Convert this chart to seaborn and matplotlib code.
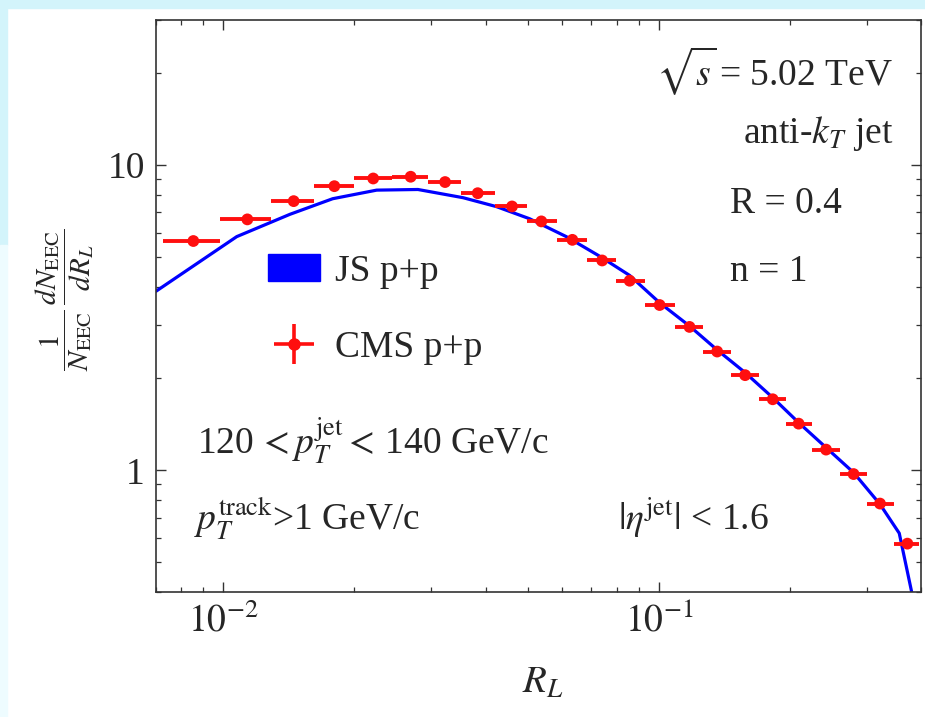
import numpy as np
import matplotlib
matplotlib.use("Agg")
import matplotlib.pyplot as plt
import seaborn as sns
from matplotlib.patches import Patch, Rectangle
from matplotlib.lines import Line2D
from matplotlib.legend_handler import HandlerTuple
from matplotlib.ticker import LogLocator, NullFormatter

# ---------------- data ----------------
cms_RL = [0.00853, 0.01135, 0.01450, 0.01798, 0.02208, 0.02692, 0.03229, 0.03837,
          0.04600, 0.05372, 0.0633, 0.0741, 0.0857, 0.1004, 0.1176, 0.1361,
          0.1578, 0.1826, 0.2094, 0.2421, 0.2800, 0.3220, 0.3722]
cms_val = [5.64, 6.64, 7.62, 8.53, 9.04, 9.16, 8.80, 8.09, 7.32, 6.54, 5.69, 4.87,
           4.18, 3.48, 2.95, 2.45, 2.05, 1.709, 1.422, 1.169, 0.972, 0.778, 0.575]
cms_bin_lo = [0.00726, 0.00984, 0.01283, 0.01615, 0.01992, 0.02438, 0.02948, 0.03519,
              0.04202, 0.04970, 0.05827, 0.06846, 0.07965, 0.09279, 0.1087, 0.1265,
              0.1466, 0.1698, 0.1954, 0.2252, 0.2604, 0.3002, 0.3462]
cms_bin_hi = [0.00984, 0.01283, 0.01615, 0.01992, 0.02438, 0.02948, 0.03519, 0.04202,
              0.04970, 0.05827, 0.06846, 0.07965, 0.09279, 0.1087, 0.1265, 0.1466,
              0.1698, 0.1954, 0.2252, 0.2604, 0.3002, 0.3462, 0.3948]

js_RL = [0.00700, 0.01073, 0.01422, 0.01782, 0.02249, 0.02797, 0.03552, 0.04238,
         0.05051, 0.06130, 0.0731, 0.0857, 0.1004, 0.1176, 0.1361, 0.1578, 0.1826,
         0.2094, 0.2421, 0.2800, 0.3220, 0.3565, 0.3850]
js_val = [3.86, 5.83, 6.90, 7.76, 8.28, 8.32, 7.82, 7.31, 6.67, 5.83, 5.03, 4.35,
          3.54, 2.97, 2.48, 2.09, 1.730, 1.433, 1.187, 0.983, 0.774, 0.622, 0.37]

x_ticks = [0.01, 0.1]
x_ticklabels = [r"$10^{-2}$", r"$10^{-1}$"]
y_ticks = [1, 10]
y_ticklabels = ["1", "10"]

RED = "#ff0f0f"
BLUE = "#0000ff"

# ---------------- style ----------------
sns.set_style("ticks")
plt.rcParams["font.family"] = ["Liberation Serif", "DejaVu Serif"]
plt.rcParams["mathtext.fontset"] = "stix"

fig = plt.figure(figsize=(9.25, 7.17), dpi=100)
fig.patch.set_facecolor("white")
# light cyan page border
fig.patches.append(Rectangle((0, 1 - 8 / 717), 1, 8 / 717, transform=fig.transFigure,
                             color="#d3f4fb", zorder=-10))
fig.patches.append(Rectangle((0, 1 - 245 / 717), 7 / 925, 245 / 717, transform=fig.transFigure,
                             color="#d3f4fb", zorder=-10))
fig.patches.append(Rectangle((0, 0), 7 / 925, 1 - 245 / 717, transform=fig.transFigure,
                             color="#eefcff", zorder=-10))

ax = fig.add_axes([0.1686, 0.1747, 0.9957 - 0.1686, 0.9728 - 0.1747])
ax.set_xscale("log")
ax.set_yscale("log")

sns.lineplot(x=js_RL, y=js_val, color=BLUE, lw=2.3, sort=False, ax=ax,
             legend=False, zorder=2)

xl = np.array(cms_RL) - np.array(cms_bin_lo)
xh = np.array(cms_bin_hi) - np.array(cms_RL)
ax.errorbar(cms_RL, cms_val, xerr=[xl, xh], fmt="none", ecolor=RED,
            elinewidth=2.8, capsize=0, zorder=3)
sns.scatterplot(x=cms_RL, y=cms_val, color=RED, s=72, edgecolor="none",
                ax=ax, legend=False, zorder=4)

ax.set_xlim(0.007, 0.4)
ax.set_ylim(0.4, 30)

ax.set_xticks(x_ticks)
ax.set_xticklabels(x_ticklabels)
ax.set_yticks(y_ticks)
ax.set_yticklabels(y_ticklabels)
ax.xaxis.set_minor_locator(LogLocator(base=10, subs=np.arange(2, 10)))
ax.yaxis.set_minor_locator(LogLocator(base=10, subs=np.arange(2, 10)))
ax.xaxis.set_minor_formatter(NullFormatter())
ax.yaxis.set_minor_formatter(NullFormatter())
ax.tick_params(which="both", direction="in", top=True, right=True,
               color="#333333", labelsize=27, pad=8)
ax.tick_params(which="major", length=7, width=1.0)
ax.tick_params(which="minor", length=3.5, width=0.9)
for s in ax.spines.values():
    s.set_color("#333333")
    s.set_linewidth(1.2)

ax.set_xlabel(r"$R_L$", fontsize=28)
ax.xaxis.set_label_coords(0.505, -0.16)
ax.xaxis.label.set_va("center")
ax.set_ylabel(r"$\dfrac{1}{N_{\rm EEC}}\,\dfrac{dN_{\rm EEC}}{dR_L}$", fontsize=21,
              rotation=90, ha="center", va="center")
ax.yaxis.set_label_coords(-0.119, 0.51)

fs = 27
ax.text(0.9634, 0.8855, r"$\sqrt{s}\,$= 5.02 TeV", transform=ax.transAxes,
        ha="right", va="baseline", fontsize=fs)
ax.text(0.9634, 0.7836, r"anti-$k_T$ jet", transform=ax.transAxes,
        ha="right", va="baseline", fontsize=fs)
ax.text(0.7503, 0.6613, "R = 0.4", transform=ax.transAxes,
        ha="left", va="baseline", fontsize=fs)
ax.text(0.7503, 0.5435, "n = 1", transform=ax.transAxes,
        ha="left", va="baseline", fontsize=fs)
ax.text(0.0536, 0.2402, r"120$\,<p_T^{\rm jet}<\,$140 GeV/c", transform=ax.transAxes,
        ha="left", va="baseline", fontsize=fs)
ax.text(0.0503, 0.1078, r"$p_T^{\rm track}$>1 GeV/c", transform=ax.transAxes,
        ha="left", va="baseline", fontsize=fs)
ax.text(0.6039, 0.1078, r"$|\eta^{\rm jet}|$ < 1.6", transform=ax.transAxes,
        ha="left", va="baseline", fontsize=fs)

js_handle = Patch(facecolor=BLUE, edgecolor=BLUE)
cross = Line2D([], [], color=RED, marker="+", markersize=29, markeredgewidth=2.6,
               linestyle="none")
dot = Line2D([], [], color=RED, marker="o", markersize=8, linestyle="none")
ax.legend(handles=[js_handle, (cross, dot)], labels=["JS p+p", "CMS p+p"],
          handler_map={tuple: HandlerTuple(ndivide=1)},
          frameon=False, fontsize=fs, loc="upper left",
          bbox_to_anchor=(0.1464, 0.5905), borderpad=0, borderaxespad=0,
          handlelength=1.4, handleheight=0.75, handletextpad=0.4,
          labelspacing=1.12)

fig.savefig("out.png", dpi=100)
